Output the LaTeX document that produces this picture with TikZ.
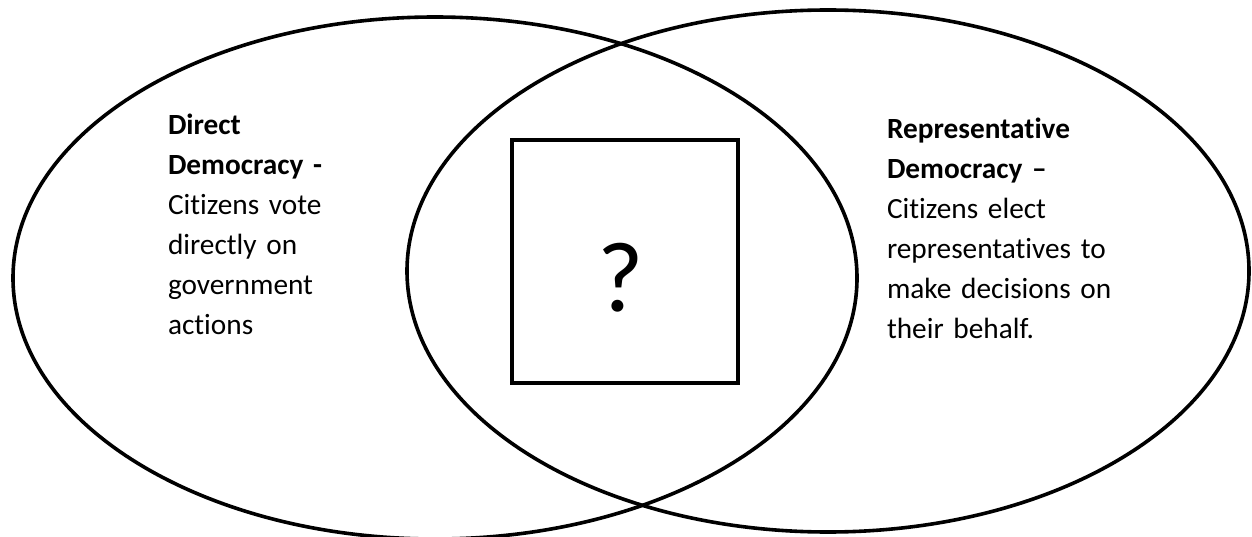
\documentclass[tikz,border=0pt]{standalone}
\usepackage{fontspec}
\setmainfont{Carlito}[Ligatures={NoCommon}]
\usetikzlibrary{shapes.geometric}
\begin{document}
\begin{tikzpicture}[x=1pt,y=-1pt,
  ring/.style={draw=black, line width=3.6pt, ellipse, inner sep=0pt, outer sep=0pt},
  qbox/.style={draw=black, line width=3.6pt, inner sep=0pt, minimum width=226pt, minimum height=243pt},
  label/.style={inner sep=0pt, outer sep=0pt, align=left, anchor=base west,
    font=\fontsize{29.3}{40}\selectfont}]
\useasboundingbox (0,0) rectangle (1252,537);
\node[ring, minimum width=844pt, minimum height=522pt] (left) at (435,278) {};
\node[ring, minimum width=842pt, minimum height=522pt] (right) at (828,271) {};
\node[qbox] (box) at (625,261.5) {};
\node[inner sep=0pt, anchor=base, font=\fontsize{100}{100}\selectfont] (q) at (621,311) {?};
\node[label, text width=220pt] (dd) at (168,135) {\textbf{Direct}\\\textbf{Democracy -}\\Citizens vote\\directly on\\government\\actions};
\node[label, text width=260pt] (rd) at (887,139) {\textbf{Representative}\\\textbf{Democracy –}\\Citizens elect\\representatives to\\make decisions on\\their behalf.};
\end{tikzpicture}
\end{document}
